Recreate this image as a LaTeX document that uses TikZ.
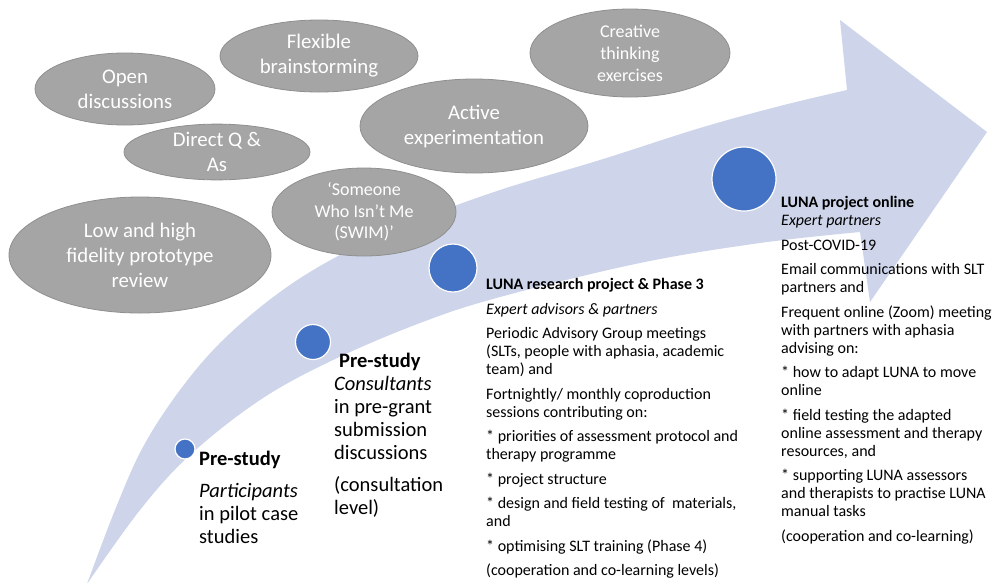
\documentclass[tikz,border=0pt]{standalone}
\usepackage{fontspec}
\setmainfont{Carlito}
\usetikzlibrary{shapes.geometric}
\definecolor{arrowc}{HTML}{CED5EA}
\definecolor{ellfill}{HTML}{A5A5A5}
\definecolor{elldraw}{HTML}{8F8F8F}
\definecolor{dotc}{HTML}{4472C4}
\begin{document}
\begin{tikzpicture}[x=1pt,y=-1pt,
 bubble/.style={ellipse, fill=ellfill, draw=elldraw, line width=0.8pt, text=white, align=center, inner sep=0pt},
 dot/.style={circle, fill=dotc, draw=white, line width=1.2pt, inner sep=0pt},
 txtblock/.style={anchor=north west, align=left, inner sep=0pt, text=black}]
\path[fill=white] (0,0) rectangle (1000,582);
\useasboundingbox (0,0) rectangle (1000,582);

% curved arrow
\fill[arrowc] (87,584) -- plot[smooth, tension=0.6] coordinates {(87,584) (115,510) (143,447) (180,390) (223,340) (280,292) (340,255) (413,222) (500,190) (600,160) (700,128) (780,106) (847,90)}
 -- (840,20) -- (987,132) -- (870,302) -- (860,232)
 -- plot[smooth, tension=0.6] coordinates {(860,232) (760,243) (640,263) (500,297) (420,323) (333,360) (260,400) (190,455) (140,510) (87,584)} -- cycle;

% bubbles
\node[bubble, minimum width=180pt, minimum height=72pt, font=\fontsize{20.8}{25}\selectfont] (open) at (125,89) {Open\\discussions};
\node[bubble, minimum width=198pt, minimum height=72pt, font=\fontsize{20.8}{25}\selectfont] (flex) at (319,56) {Flexible\\brainstorming};
\node[bubble, minimum width=186pt, minimum height=54pt, font=\fontsize{20.8}{25}\selectfont] (direct) at (217,152) {Direct Q \&\\As};
\node[bubble, minimum width=228pt, minimum height=94pt, font=\fontsize{20.8}{25}\selectfont] (active) at (474,126) {Active\\experimentation};
\node[bubble, minimum width=200pt, minimum height=88pt, font=\fontsize{18}{22}\selectfont] (creative) at (630,53) {Creative\\thinking\\exercises};
\node[bubble, minimum width=184pt, minimum height=88pt, font=\fontsize{18}{21.7}\selectfont] (swim) at (364,212) {‘Someone\\Who Isn’t Me\\(SWIM)’};
\node[bubble, minimum width=262pt, minimum height=116pt, font=\fontsize{20.8}{25}\selectfont] (low) at (140,255) {Low and high\\fidelity prototype\\review};

% milestone dots
\node[dot, minimum size=20pt] (d1) at (185,449) {};
\node[dot, minimum size=35pt] (d2) at (313,342) {};
\node[dot, minimum size=48pt] (d3) at (453,268) {};
\node[dot, minimum size=64pt] (d4) at (744,179) {};

% text blocks
\node[txtblock, font=\fontsize{20.5}{23}\selectfont] (t1) at (199,451)
 {\textbf{Pre-study}\\[9pt]\textit{Participants}\\in pilot case\\studies};
\node[txtblock, font=\fontsize{20.5}{23}\selectfont] (t2) at (334,353)
 {\hspace*{5pt}\textbf{Pre-study}\\\textit{Consultants}\\in pre-grant\\submission\\discussions\\[9pt](consultation\\level)};
\node[txtblock, font=\fontsize{16}{18}\selectfont] (t3) at (486,278.3)
 {\textbf{LUNA research project \& Phase 3}\\[6.5pt]
 \textit{Expert advisors \& partners}\\[6.5pt]
 Periodic Advisory Group meetings\\(SLTs, people with aphasia, academic\\team) and\\[6.5pt]
 Fortnightly/ monthly coproduction\\sessions contributing on:\\[6.5pt]
 * priorities of assessment protocol and\\therapy programme\\[6.5pt]
 * project structure\\[6.5pt]
 * design and field testing of\ \ materials,\\and\\[6.5pt]
 * optimising SLT training (Phase 4)\\[6.5pt]
 (cooperation and co-learning levels)};
\node[txtblock, font=\fontsize{16}{18}\selectfont] (t4) at (781,196.3)
 {\textbf{LUNA project online}\\\textit{Expert partners}\\[6.5pt]
 Post-COVID-19\\[6.5pt]
 Email communications with SLT\\partners and\\[6.5pt]
 Frequent online (Zoom) meeting\\with partners with aphasia\\advising on:\\[6.5pt]
 * how to adapt LUNA to move\\online\\[6.5pt]
 * field testing the adapted\\online assessment and therapy\\resources, and\\[6.5pt]
 * supporting LUNA assessors\\and therapists to practise LUNA\\manual tasks\\[6.5pt]
 (cooperation and co-learning)};
\end{tikzpicture}
\end{document}
